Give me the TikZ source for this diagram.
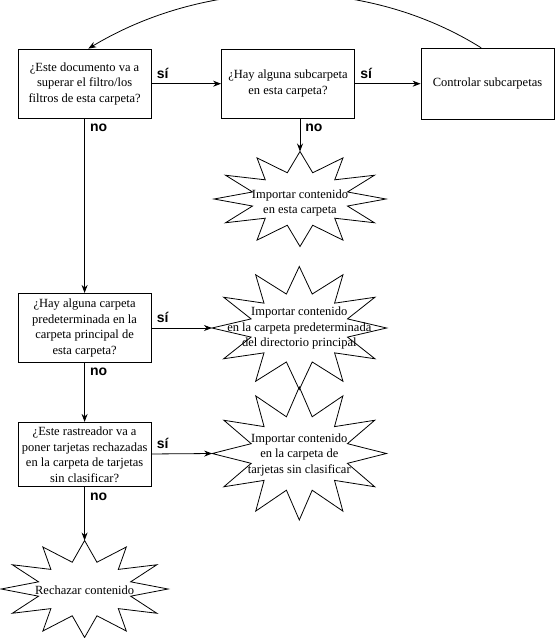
\documentclass[tikz,border=0pt]{standalone}
\usepackage{fontspec}
\setmainfont{Liberation Serif}
\newfontfamily\answerfont{Liberation Sans}
\usetikzlibrary{shapes.geometric, arrows.meta, positioning}
\tikzset{
	>={Stealth[length=8pt, width=6pt]},
	align=center,
	question/.style={draw, rectangle, minimum width=133pt, minimum height=69.3pt,
		inner sep=2pt, font=\fontsize{12.5}{15.5}\selectfont},
	burst/.style={draw, star, star points=12, star point ratio=1.75,
		inner sep=0pt, outer sep=0pt, transform shape},
	burst text/.style={inner sep=0pt, font=\fontsize{12.5}{15.5}\selectfont},
	answer/.style={inner sep=5pt, font=\answerfont\bfseries\fontsize{14}{16}\selectfont}
}

\begin{document}
\begin{tikzpicture}[line width=0.8pt]
	\useasboundingbox (0,0) rectangle (555pt,-638pt);

	% questions
	\node[question] (b1) at (84.6pt,-83.7pt) {¿Este documento va a\\superar el filtro/los\\filtros de esta carpeta?};
	\node[question, right of=b1, node distance=203.4pt] (b2) {¿Hay alguna subcarpeta\\en esta carpeta?};
	\node[question, right of=b2, node distance=199.5pt, minimum height=71pt] (b3) {Controlar subcarpetas};
	\node[question, below of=b1, node distance=244.3pt] (b4) {¿Hay alguna carpeta\\predeterminada en la\\carpeta principal de\\esta carpeta?};
	\node[question, below of=b4, node distance=126.5pt, minimum height=64.4pt] (b5) {¿Este rastreador va a\\poner tarjetas rechazadas\\en la carpeta de tarjetas\\sin clasificar?};

	% results
	\node[burst text, below of=b2, node distance=119.3pt, xshift=12pt] (t1) {Importar contenido\\en esta carpeta};
	\node[burst text, right of=b4, node distance=214.7pt] (t2) {Importar contenido\\en la carpeta predeterminada\\del directorio principal};
	\node[burst text, right of=b5, node distance=214.7pt] (t3) {Importar contenido\\en la carpeta de\\tarjetas sin clasificar};
	\node[burst text, below of=b5, node distance=136pt] (t4) {Rechazar contenido};

	\begin{scope}[shift={([yshift=4pt]t1.center)}, xscale=1.81]
		\node[burst, minimum size=95pt] (s1) {};
	\end{scope}
	\begin{scope}[shift={(t2.center)}, xscale=1.42]
		\node[burst, minimum size=123pt] (s2) {};
	\end{scope}
	\begin{scope}[shift={([yshift=1pt]t3.center)}, xscale=1.31]
		\node[burst, minimum size=133pt] (s3) {};
	\end{scope}
	\begin{scope}[shift={([yshift=1.5pt]t4.center)}, xscale=1.72]
		\node[burst, minimum size=97pt] (s4) {};
	\end{scope}

	\path[->]
	(b1) edge node[answer, pos=0, above right]{sí} (b2)
	(b2) edge node[answer, pos=0, above right]{sí} (b3)
	(s1 |- b2.south) edge node[answer, pos=0, below right]{no} (s1.north)
	(b1) edge node[answer, pos=0, below right]{no} (b4)
	(b4) edge node[answer, pos=0, above right]{sí} (s2.west)
	(b4) edge node[answer, pos=0, below right]{no} (b5)
	(b5) edge node[answer, pos=0, above right]{sí} (s3.west)
	(b5) edge node[answer, pos=0, below right]{no} (s4.north)
	(b3.100) edge[out=148, in=31, looseness=0.9] (b1.84)
	;
\end{tikzpicture}
\end{document}
